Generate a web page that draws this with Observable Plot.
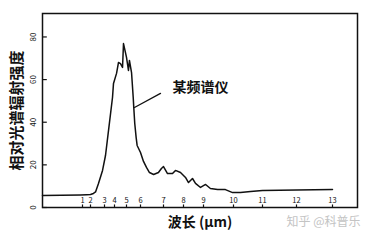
<!DOCTYPE html>
<html>
<head>
<meta charset="utf-8">
<script src="https://cdn.jsdelivr.net/npm/d3@7"></script>
<script src="https://cdn.jsdelivr.net/npm/@observablehq/plot@0.6"></script>
<style>
  html, body { margin: 0; padding: 0; background: #fff; }
  #chart svg { display: block; }
</style>
</head>
<body>
<div id="chart"></div>
<script>
// Wavelength (µm) of each sample along the curve
const wavelength = [0, 0.95, 1.5, 2, 2.21, 2.36, 2.57, 2.86, 3.1, 3.4, 3.8, 3.9, 4.17, 4.33, 4.5, 4.67, 4.75, 5.0, 5.14, 5.21, 5.36, 5.48, 5.52, 5.59, 5.69, 5.76, 6.0, 6.13, 6.26, 6.39, 6.57, 6.78, 6.91, 7.0, 7.2, 7.45, 7.6, 7.85, 8.1, 8.25, 8.45, 8.6, 8.85, 9.07, 9.23, 9.47, 9.73, 9.97, 10.24, 10.59, 11, 12, 13];
// Relative spectral radiant intensity
const intensity = [5.6, 5.9, 6.0, 6.1, 6.6, 7.3, 11.3, 17.4, 24.4, 36.1, 51.6, 58.2, 62.9, 68.0, 67.5, 65.7, 76.9, 70.4, 64.3, 69.0, 63.3, 51.6, 46.9, 39.4, 32.8, 29.1, 25.8, 21.6, 18.8, 16.4, 15.5, 16.4, 18.3, 19.2, 15.9, 15.9, 17.4, 16.4, 14.1, 11.7, 13.6, 11.3, 9.4, 10.8, 8.9, 8.4, 8.4, 7.0, 7.0, 7.5, 8.0, 8.2, 8.4];

const xTicks = [1, 2, 3, 4, 5, 6, 7, 8, 9, 10, 11, 12, 13];
const yTicks = [0, 20, 40, 60, 80];

const yTitle = "相对光谱辐射强度";
const xTitle = "波长 (μm)";
const seriesLabel = "某频谱仪";
const labelAt = {x: 7.45, y: 56.3};
const leader = [{x: 6.87, y: 53.5}, {x: 5.57, y: 46.9}];
const watermark = "知乎 @科普乐";

const curve = wavelength.map((w, i) => ({w, v: intensity[i]}));

const font = "'Noto Sans CJK SC', 'Noto Sans', sans-serif";

const chart = Plot.plot({
  width: 371,
  height: 243,
  marginLeft: 42,
  marginRight: 14,
  marginTop: 13,
  marginBottom: 36,
  style: {fontFamily: font, background: "#fff", color: "#111"},
  x: {
    type: "linear",
    domain: [0, 1, 2, 3, 4, 5, 6, 7, 8, 9, 10, 11, 12, 13, 14],
    range: [42, 82, 90, 104, 114, 126, 140, 163, 183, 203, 233, 262, 296, 332, 357],
    axis: null
  },
  y: {domain: [0, 91], axis: null},
  marks: [
    Plot.frame({stroke: "#111", strokeWidth: 1.5}),
    // y ticks (inward) and rotated labels
    Plot.ruleY(yTicks, {y: d => d, x1: 0, x2: 0.12, stroke: "#111", strokeWidth: 1.2}),
    Plot.text(yTicks, {y: d => d, text: d => String(d), frameAnchor: "left", textAnchor: "middle", lineAnchor: "middle", dx: -9, rotate: -90, fontSize: 8, fill: "#111"}),
    // x ticks and labels (inside the frame)
    Plot.ruleX(xTicks, {x: d => d, y1: 0, y2: 1.2, stroke: "#111", strokeWidth: 1.2}),
    Plot.text(xTicks, {x: d => d, text: d => String(d), frameAnchor: "bottom", lineAnchor: "middle", dy: -7, fontSize: 7.5, fill: "#111"}),
    // spectrum curve
    Plot.line(curve, {x: "w", y: "v", stroke: "#111", strokeWidth: 1.5, curve: "linear"}),
    // annotation
    Plot.line(leader, {x: "x", y: "y", stroke: "#111", strokeWidth: 1.3}),
    Plot.text([seriesLabel], {x: () => labelAt.x, y: () => labelAt.y, text: d => d, textAnchor: "start", fontSize: 14, fontWeight: "bold", fill: "#111"}),
    // axis titles
    Plot.text([yTitle], {text: d => d, frameAnchor: "left", textAnchor: "middle", lineAnchor: "middle", dx: -25, rotate: -90, fontSize: 15, fontWeight: "bold", fill: "#111"}),
    Plot.text([xTitle], {text: d => d, frameAnchor: "bottom", lineAnchor: "middle", dy: 15, fontSize: 14, fontWeight: "bold", fill: "#111"}),
    Plot.text([watermark], {text: d => d, frameAnchor: "bottom-right", lineAnchor: "middle", dx: 3, dy: 15, textAnchor: "end", fontSize: 12, fill: "#c4c4c4"})
  ]
});

document.getElementById("chart").appendChild(chart);
</script>
</body>
</html>
